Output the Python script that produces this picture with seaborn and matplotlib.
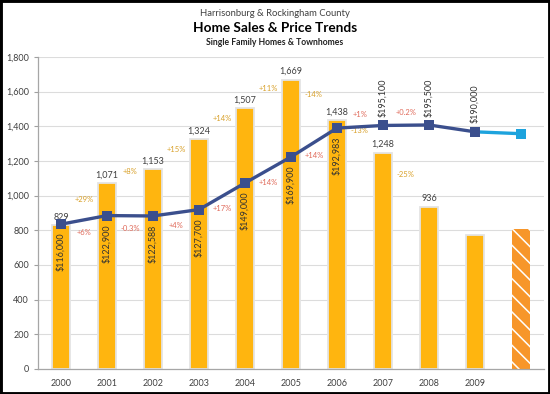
import matplotlib
matplotlib.use('Agg')
import matplotlib.pyplot as plt
import seaborn as sns
import numpy as np
from matplotlib.patches import Rectangle
from matplotlib.ticker import FuncFormatter

# ---- data ----
years = ["2000", "2001", "2002", "2003", "2004", "2005", "2006", "2007", "2008", "2009", ""]
sales = [829, 1071, 1153, 1324, 1507, 1669, 1438, 1248, 936, 770, 808]
prices = [116000, 122900, 122588, 127700, 149000, 169900, 192983, 195100, 195500, 190000, 188500]
sales_labels = ["829", "1,071", "1,153", "1,324", "1,507", "1,669", "1,438", "1,248", "936"]
price_labels = ["$116,000", "$122,900", "$122,588", "$127,700", "$149,000",
                "$169,900", "$192,983", "$195,100", "$195,500", "$190,000"]
sales_pct = ["+29%", "+8%", "+15%", "+14%", "+11%", "-14%", "-13%", "-25%"]
price_pct = ["+6%", "-0.3%", "+4%", "+17%", "+14%", "+14%", "+1%", "+0.2%"]
price_pct_above = [False, False, False, False, False, False, True, True]
price_label_above = [False] * 7 + [True] * 3

BAR = "#FFB50F"
PROJ = "#F7962A"
DARK = "#3B4F8D"
LIGHT = "#1DA3DD"
GOLD = "#D9A12A"
RED = "#E06A5A"
TXT = "#404040"

sns.set_theme(style="white")
plt.rcParams['font.family'] = ['Lato', 'DejaVu Sans']
plt.rcParams['hatch.linewidth'] = 1.1

fig = plt.figure(figsize=(5.5, 3.94), dpi=100)
ax = fig.add_axes([0.069, 0.0635, 0.92, 0.792])

# bars
palette = [BAR] * 10 + [PROJ]
sns.barplot(x=years, y=sales, hue=years, palette=palette, legend=False,
            width=0.38, edgecolor="#e4e4e4", linewidth=1.3, saturation=1, ax=ax)
last = ax.patches[-1]
last.set_hatch("\\\\")
last.set_edgecolor("white")
last.set_linewidth(0)

ax.set_xlim(-0.5, 10.5)
ax.set_ylim(0, 1800)
ax.set_yticks(np.arange(0, 1801, 200))
ax.yaxis.set_major_formatter(FuncFormatter(lambda v, p: f"{v:,.0f}"))
ax.set_xticks(range(11))
ax.set_xticklabels(years)
ax.set_xticks(np.arange(-0.5, 11, 1), minor=True)
ax.tick_params(axis="x", which="major", length=0, labelsize=6.5, labelcolor=TXT, pad=7)
ax.tick_params(axis="x", which="minor", length=3.5, width=0.8, color="#a0a0a0", direction="out")
ax.tick_params(axis="y", length=3, width=0.8, color="#a0a0a0", labelsize=6.5,
               labelcolor=TXT, direction="out", left=True)
ax.yaxis.grid(True, color="#dcdcdc", linewidth=0.8)
ax.set_axisbelow(True)
for s in ["top", "right"]:
    ax.spines[s].set_visible(False)
for s in ["left", "bottom"]:
    ax.spines[s].set_color("#a6a6a6")
    ax.spines[s].set_linewidth(0.9)
ax.set_xlabel("")
ax.set_ylabel("")

# bar value labels
for i, t in enumerate(sales_labels):
    ax.annotate(t, (i, sales[i]), xytext=(0, 2.5), textcoords="offset points",
                ha="center", va="bottom", fontsize=6.5, color=TXT)

# sales change labels
for i, t in enumerate(sales_pct):
    ax.text(i + 0.5, (sales[i] + sales[i + 1]) / 2 + 30, t, ha="center", va="center",
            fontsize=5.5, color=GOLD)

# price line on hidden secondary axis
ax2 = ax.twinx()
ax2.set_ylim(0, 250000)
ax2.axis("off")
sns.lineplot(x=[9, 10], y=prices[9:], ax=ax2, color=LIGHT, linewidth=2.4,
             marker="s", markersize=7, markeredgewidth=0, markevery=[1])
sns.lineplot(x=list(range(10)), y=prices[:10], ax=ax2, color=DARK, linewidth=2.4,
             marker="s", markersize=7, markeredgewidth=0)
ax2.set_xlim(-0.5, 10.5)

for i, t in enumerate(price_labels):
    up = price_label_above[i]
    ax2.annotate(t, (i, prices[i]), xytext=(0, 6 if up else -6), textcoords="offset points",
                 rotation=90, ha="center", va="bottom" if up else "top",
                 fontsize=6.5, color="#333333")

for i, t in enumerate(price_pct):
    up = price_pct_above[i]
    ax2.annotate(t, (i + 0.5, (prices[i] + prices[i + 1]) / 2), xytext=(0, 9 if up else -9),
                 textcoords="offset points", ha="center", va="center",
                 fontsize=5.5, color=RED)

# titles
fig.text(0.5, 0.967, "Harrisonburg & Rockingham County", ha="center", va="center",
         fontsize=6.8, color="#404040")
fig.text(0.5, 0.929, "Home Sales & Price Trends", ha="center", va="center",
         fontsize=9.8, fontweight="bold", color="black")
fig.text(0.5, 0.891, "Single Family Homes & Townhomes", ha="center", va="center",
         fontsize=6.2, fontweight="bold", color="#222222")

fig.patches.append(Rectangle((0, 0), 1, 1, transform=fig.transFigure, fill=False,
                             linewidth=3.5, edgecolor="black"))

fig.savefig("out.png", dpi=100)
